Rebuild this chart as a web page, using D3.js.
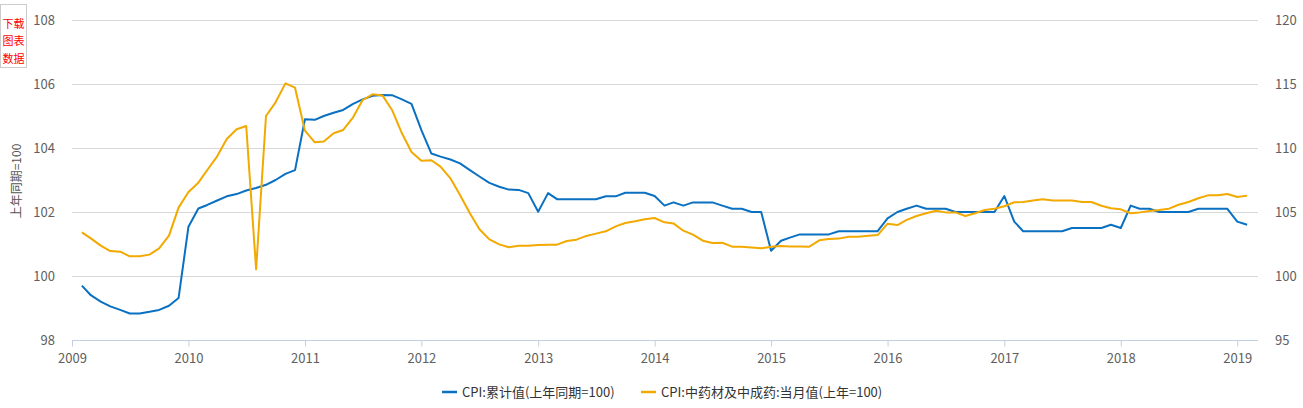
<!DOCTYPE html>
<html><head><meta charset="utf-8">
<script src="https://cdn.jsdelivr.net/npm/d3@7"></script>
<style>
html,body{margin:0;padding:0;background:#fff;}
svg{display:block;font-family:"Microsoft YaHei","Noto Sans CJK SC","Noto Sans",sans-serif;}
</style></head>
<body><svg id="c" width="1303" height="408"></svg>
<script>
// ---- data (monthly, 2009-02 .. 2019-02) ----
const startMonth = "2009-02";
const cpiCumulative = [
  99.7, 99.4, 99.2, 99.05, 98.94, 98.83, 98.83, 98.88, 98.94, 99.07, 99.31,
  101.54, 102.11, 102.22, 102.36, 102.49, 102.56, 102.67, 102.75, 102.85, 103.0, 103.19, 103.31,
  104.9, 104.88, 105.0, 105.1, 105.19, 105.38, 105.52, 105.63, 105.66, 105.65, 105.52, 105.38,
  104.56, 103.83, 103.73, 103.64, 103.52, 103.31, 103.11, 102.91, 102.79, 102.7, 102.69, 102.59,
  102.01, 102.59, 102.4, 102.4, 102.4, 102.4, 102.4, 102.49, 102.49, 102.6, 102.6, 102.6,
  102.5, 102.2, 102.3, 102.2, 102.3, 102.3, 102.3, 102.2, 102.1, 102.1, 102.0, 102.0,
  100.79, 101.1, 101.2, 101.3, 101.3, 101.3, 101.3, 101.4, 101.4, 101.4, 101.4, 101.4,
  101.8, 102.0, 102.1, 102.2, 102.1, 102.1, 102.1, 102.0, 102.0, 102.0, 102.0, 102.0,
  102.5, 101.7, 101.4, 101.4, 101.4, 101.4, 101.4, 101.5, 101.5, 101.5, 101.5, 101.6,
  101.5, 102.2, 102.1, 102.1, 102.0, 102.0, 102.0, 102.0, 102.1, 102.1, 102.1, 102.1,
  101.7, 101.6
];
const cpiTcmMonthly = [
  103.41, 102.94, 102.37, 101.95, 101.9, 101.54, 101.54, 101.67, 102.16, 103.15, 105.34,
  106.56, 107.29, 108.28, 109.35, 110.7, 111.46, 111.72, 100.52, 112.5, 113.57, 115.05, 114.71,
  111.35, 110.44, 110.5, 111.15, 111.41, 112.4, 113.75, 114.19, 114.11, 112.97, 111.15, 109.69,
  109.01, 109.04, 108.54, 107.63, 106.33, 104.9, 103.65, 102.86, 102.47, 102.24, 102.37, 102.37,
  102.42, 102.45, 102.45, 102.73, 102.84, 103.13, 103.31, 103.49, 103.88, 104.14, 104.27, 104.43,
  104.53, 104.19, 104.11, 103.54, 103.23, 102.76, 102.58, 102.6, 102.29, 102.29, 102.22, 102.16,
  102.28, 102.34, 102.3, 102.3, 102.29, 102.79, 102.89, 102.92, 103.07, 103.07, 103.15, 103.2,
  104.09, 103.98, 104.38, 104.69, 104.9, 105.1, 104.97, 104.97, 104.69, 104.9, 105.16, 105.26,
  105.45, 105.76, 105.78, 105.9, 105.99, 105.89, 105.89, 105.89, 105.78, 105.78, 105.49, 105.29,
  105.21, 104.9, 104.97, 105.08, 105.16, 105.26, 105.57, 105.78, 106.07, 106.3, 106.3, 106.41,
  106.17, 106.28
];
const seriesNames = ["CPI:累计值(上年同期=100)", "CPI:中药材及中成药:当月值(上年=100)"];
const leftTicks = [98, 100, 102, 104, 106, 108];
const rightTicks = [95, 100, 105, 110, 115, 120];
const yearTicks = [2009, 2010, 2011, 2012, 2013, 2014, 2015, 2016, 2017, 2018, 2019];
const yAxisTitle = "上年同期=100";
const downloadLines = ["下载", "图表", "数据"];

// ---- build ----
const parse = d3.timeParse("%Y-%m");
const t0 = parse(startMonth);
const dates = cpiCumulative.map((_, i) => d3.timeMonth.offset(t0, i));

const svg = d3.select("#c");
const L = 72, R = 1258, T = 20, B = 340;
const x = d3.scaleTime().domain([new Date(2009,0,1), new Date(2019,2,7)]).range([L, R]);
const yL = d3.scaleLinear().domain([98,108]).range([B, T]);
const yR = d3.scaleLinear().domain([95,120]).range([B, T]);
const colors = ["#0a70c2", "#f2a900"];
const tickColor = "#606060";

// grid
svg.append("g").selectAll("line").data(leftTicks.slice(1)).join("line")
  .attr("x1", L).attr("x2", R)
  .attr("y1", d => Math.round(yL(d)) + 0.5).attr("y2", d => Math.round(yL(d)) + 0.5)
  .attr("stroke", "#d8d8d8").attr("stroke-width", 1);

// left axis labels
svg.append("g").selectAll("text").data(leftTicks).join("text")
  .attr("x", 55).attr("y", d => yL(d)).attr("dy", "0.35em")
  .attr("text-anchor", "end").attr("font-size", 13).attr("fill", tickColor)
  .text(d => d);
// right axis labels
svg.append("g").selectAll("text").data(rightTicks).join("text")
  .attr("x", 1275).attr("y", d => yR(d)).attr("dy", "0.35em")
  .attr("text-anchor", "start").attr("font-size", 13).attr("fill", tickColor)
  .text(d => d);

// x axis
const xAxis = d3.axisBottom(x)
  .tickValues(yearTicks.map(y => new Date(y,0,1)))
  .tickFormat(d3.timeFormat("%Y"))
  .tickSize(6).tickSizeOuter(0);
const gx = svg.append("g").attr("transform", `translate(0,${B + 0.5})`).call(xAxis);
gx.select(".domain").attr("stroke", "#c0d0e0").attr("d", `M${L},0H${R}`);
gx.selectAll(".tick line").attr("stroke", "#c0d0e0");
gx.selectAll(".tick text").attr("fill", tickColor).attr("font-size", 13)
  .attr("font-family", "\"Microsoft YaHei\",\"Noto Sans CJK SC\",sans-serif").attr("dy", "1.05em");

// y axis title
svg.append("text").attr("transform", "translate(21,181) rotate(-90)")
  .attr("text-anchor", "middle").attr("font-size", 12).attr("fill", "#555")
  .text(yAxisTitle);

// lines
const lineL = d3.line().x((d,i) => x(dates[i])).y(d => yL(d));
const lineR = d3.line().x((d,i) => x(dates[i])).y(d => yR(d));
svg.append("path").datum(cpiCumulative).attr("d", lineL)
  .attr("fill", "none").attr("stroke", colors[0]).attr("stroke-width", 2).attr("stroke-linejoin", "round");
svg.append("path").datum(cpiTcmMonthly).attr("d", lineR)
  .attr("fill", "none").attr("stroke", colors[1]).attr("stroke-width", 2).attr("stroke-linejoin", "round");

// legend
const legX = [442, 641];
seriesNames.forEach((name, i) => {
  const g = svg.append("g").attr("transform", `translate(${legX[i]},392)`);
  g.append("line").attr("x1", 0).attr("x2", 15).attr("y1", 0).attr("y2", 0)
    .attr("stroke", colors[i]).attr("stroke-width", 2.5);
  g.append("text").attr("x", 20).attr("y", 0).attr("dy", "0.35em")
    .attr("font-size", 13).attr("fill", "#333").text(name);
});

// download box
svg.append("rect").attr("x", 0.5).attr("y", 4.5).attr("width", 26).attr("height", 63)
  .attr("fill", "#fff").attr("stroke", "#ccc");
svg.append("g").selectAll("text").data(downloadLines).join("text")
  .attr("x", 13.5).attr("y", (d,i) => 24 + i*17.5).attr("dy", "0.35em")
  .attr("text-anchor", "middle").attr("font-size", 11).attr("fill", "#f00")
  .text(d => d);
</script>
</body></html>
